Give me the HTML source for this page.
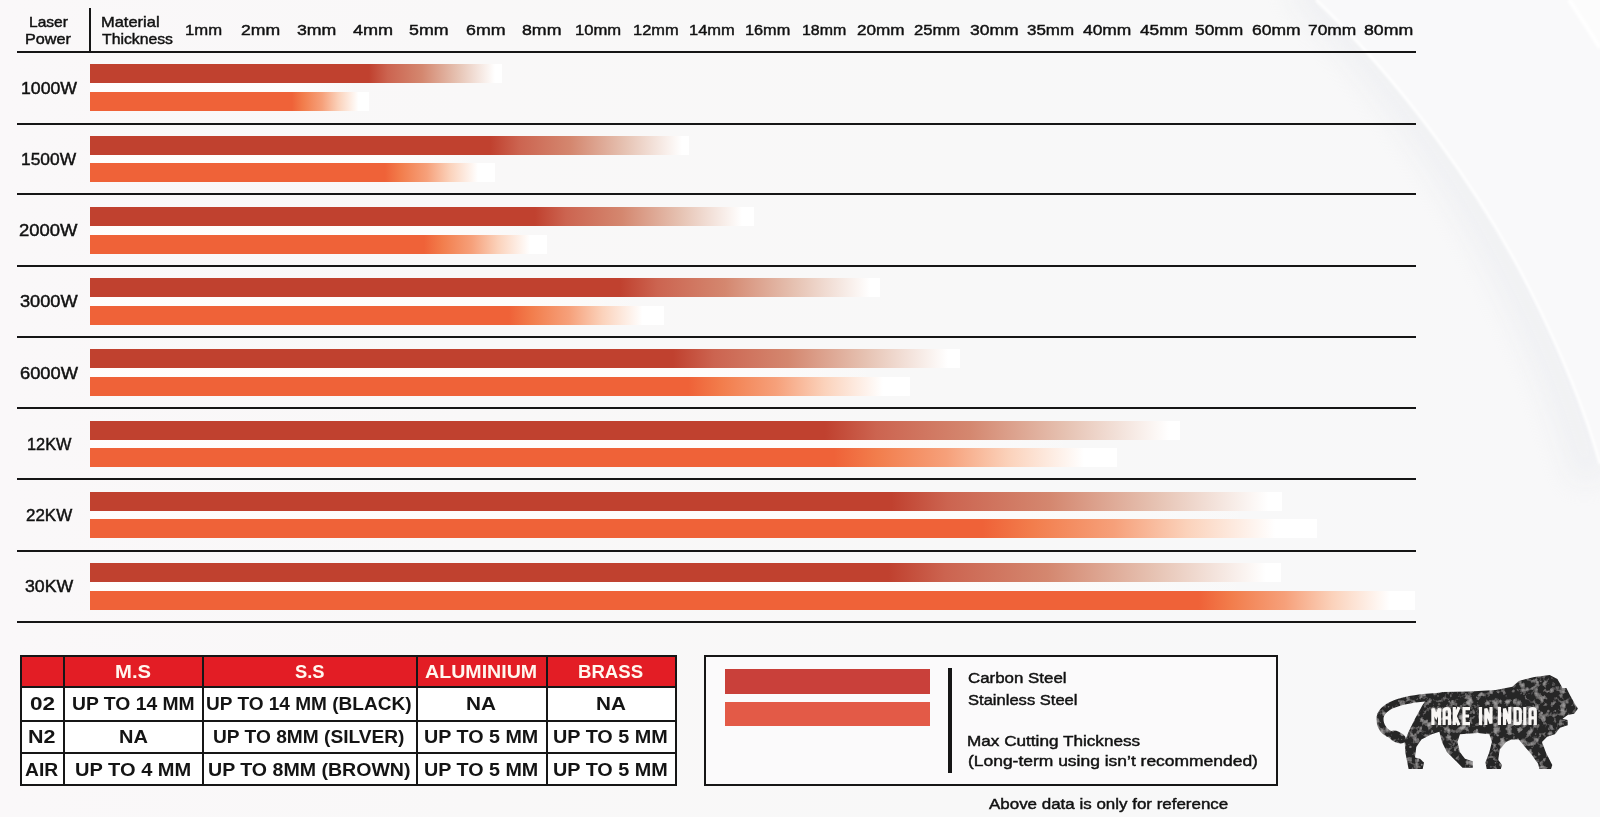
<!DOCTYPE html>
<html><head><meta charset="utf-8"><style>
html,body{margin:0;padding:0}
body{width:1600px;height:817px;overflow:hidden;position:relative;background:linear-gradient(90deg,#faf8f9 0%,#f9f8f8 30%,#f8f8f8 60%,#f8f8f9 100%);font-family:"Liberation Sans",sans-serif;color:#111}
div{white-space:nowrap}
</style></head><body>
<svg style="position:absolute;left:0;top:0" width="1600" height="817" viewBox="0 0 1600 817">
<defs>
<filter id="bl" x="-50%" y="-50%" width="200%" height="200%"><feGaussianBlur stdDeviation="14"/></filter>
<filter id="bl2" x="-50%" y="-50%" width="200%" height="200%"><feGaussianBlur stdDeviation="0.8"/></filter>
<clipPath id="leftc"><path d="M0,0 L1316,0 C1400,80 1480,190 1530,290 C1560,350 1585,410 1600,464 L1600,817 L0,817 Z"/></clipPath>
</defs>
<path d="M1316,0 C1400,80 1480,190 1530,290 C1560,350 1585,410 1600,464 L1600,0 Z" fill="#f9f9fa"/>
<g clip-path="url(#leftc)"><path d="M1300,-20 C1390,70 1470,185 1520,290 C1550,350 1575,415 1592,480" fill="none" stroke="#e6e8ed" stroke-width="40" filter="url(#bl)" opacity="0.45"/></g>
<path d="M1316,0 C1400,80 1480,190 1530,290 C1560,350 1585,410 1600,464" fill="none" stroke="#ffffff" stroke-width="2.5" filter="url(#bl2)"/>
<path d="M1569,0 C1580,16 1590,32 1600,48 L1600,0 Z" fill="#fcfcfc"/><path d="M1569,0 C1580,16 1590,32 1600,48" fill="none" stroke="#fff" stroke-width="4" filter="url(#bl2)"/>
</svg>
<div style="position:absolute;left:17px;top:51px;width:1399px;height:2px;background:#161616"></div><div style="position:absolute;left:17px;top:123px;width:1399px;height:2px;background:#161616"></div><div style="position:absolute;left:17px;top:193px;width:1399px;height:2px;background:#161616"></div><div style="position:absolute;left:17px;top:265px;width:1399px;height:2px;background:#161616"></div><div style="position:absolute;left:17px;top:336px;width:1399px;height:2px;background:#161616"></div><div style="position:absolute;left:17px;top:407px;width:1399px;height:2px;background:#161616"></div><div style="position:absolute;left:17px;top:478px;width:1399px;height:2px;background:#161616"></div><div style="position:absolute;left:17px;top:550px;width:1399px;height:2px;background:#161616"></div><div style="position:absolute;left:17px;top:621px;width:1399px;height:2px;background:#161616"></div><div style="position:absolute;left:89px;top:8px;width:2px;height:44px;background:#161616"></div><div style="position:absolute;left:90px;top:64px;width:412px;height:19px;background:linear-gradient(90deg,#c0412f 0%,#c0412f 67.72%,#cc6450 72.31%,#d4876f 80.56%,#e6c2b2 89.13%,#fff 98.30%,#fff 100%)"></div><div style="position:absolute;left:90px;top:92px;width:279px;height:19px;background:linear-gradient(90deg,#ef6238 0%,#ef6238 72.40%,#f27d4c 76.45%,#f6a07a 83.13%,#fbd2bb 89.09%,#fff 96.24%,#fff 100%)"></div><div style="position:absolute;left:90px;top:83px;width:268px;height:9px;background:linear-gradient(90deg,rgba(255,253,252,0.9) 0%,rgba(255,253,252,0.9) 75.4%,rgba(255,253,252,0) 100%)"></div><div style="position:absolute;left:90px;top:136px;width:599px;height:19px;background:linear-gradient(90deg,#c0412f 0%,#c0412f 66.86%,#cc6450 71.66%,#d4876f 80.29%,#e6c2b2 89.24%,#fff 98.83%,#fff 100%)"></div><div style="position:absolute;left:90px;top:163px;width:405px;height:19px;background:linear-gradient(90deg,#ef6238 0%,#ef6238 72.84%,#f27d4c 76.74%,#f6a07a 83.17%,#fbd2bb 88.91%,#fff 95.80%,#fff 100%)"></div><div style="position:absolute;left:90px;top:155px;width:388px;height:8px;background:linear-gradient(90deg,rgba(255,253,252,0.9) 0%,rgba(255,253,252,0.9) 76.0%,rgba(255,253,252,0) 100%)"></div><div style="position:absolute;left:90px;top:207px;width:664px;height:19px;background:linear-gradient(90deg,#c0412f 0%,#c0412f 67.02%,#cc6450 71.69%,#d4876f 80.11%,#e6c2b2 88.84%,#fff 98.19%,#fff 100%)"></div><div style="position:absolute;left:90px;top:235px;width:457px;height:19px;background:linear-gradient(90deg,#ef6238 0%,#ef6238 73.09%,#f27d4c 77.03%,#f6a07a 83.52%,#fbd2bb 89.32%,#fff 96.28%,#fff 100%)"></div><div style="position:absolute;left:90px;top:226px;width:440px;height:9px;background:linear-gradient(90deg,rgba(255,253,252,0.9) 0%,rgba(255,253,252,0.9) 75.9%,rgba(255,253,252,0) 100%)"></div><div style="position:absolute;left:90px;top:278px;width:790px;height:19px;background:linear-gradient(90deg,#c0412f 0%,#c0412f 67.09%,#cc6450 71.84%,#d4876f 80.38%,#e6c2b2 89.24%,#fff 98.73%,#fff 100%)"></div><div style="position:absolute;left:90px;top:306px;width:574px;height:19px;background:linear-gradient(90deg,#ef6238 0%,#ef6238 73.00%,#f27d4c 76.95%,#f6a07a 83.46%,#fbd2bb 89.28%,#fff 96.25%,#fff 100%)"></div><div style="position:absolute;left:90px;top:297px;width:552px;height:9px;background:linear-gradient(90deg,rgba(255,253,252,0.9) 0%,rgba(255,253,252,0.9) 75.9%,rgba(255,253,252,0) 100%)"></div><div style="position:absolute;left:90px;top:349px;width:870px;height:19px;background:linear-gradient(90deg,#c0412f 0%,#c0412f 67.01%,#cc6450 71.75%,#d4876f 80.29%,#e6c2b2 89.14%,#fff 98.62%,#fff 100%)"></div><div style="position:absolute;left:90px;top:377px;width:820px;height:19px;background:linear-gradient(90deg,#ef6238 0%,#ef6238 73.00%,#f27d4c 77.03%,#f6a07a 83.67%,#fbd2bb 89.60%,#fff 96.71%,#fff 100%)"></div><div style="position:absolute;left:90px;top:368px;width:793px;height:9px;background:linear-gradient(90deg,rgba(255,253,252,0.9) 0%,rgba(255,253,252,0.9) 73.5%,rgba(255,253,252,0) 100%)"></div><div style="position:absolute;left:90px;top:421px;width:1090px;height:19px;background:linear-gradient(90deg,#c0412f 0%,#c0412f 67.43%,#cc6450 72.17%,#d4876f 80.69%,#e6c2b2 89.52%,#fff 98.99%,#fff 100%)"></div><div style="position:absolute;left:90px;top:448px;width:1027px;height:19px;background:linear-gradient(90deg,#ef6238 0%,#ef6238 72.44%,#f27d4c 76.58%,#f6a07a 83.40%,#fbd2bb 89.48%,#fff 96.79%,#fff 100%)"></div><div style="position:absolute;left:90px;top:440px;width:994px;height:8px;background:linear-gradient(90deg,rgba(255,253,252,0.9) 0%,rgba(255,253,252,0.9) 73.9%,rgba(255,253,252,0) 100%)"></div><div style="position:absolute;left:90px;top:492px;width:1192px;height:19px;background:linear-gradient(90deg,#c0412f 0%,#c0412f 67.24%,#cc6450 71.98%,#d4876f 80.52%,#e6c2b2 89.38%,#fff 98.87%,#fff 100%)"></div><div style="position:absolute;left:90px;top:519px;width:1227px;height:19px;background:linear-gradient(90deg,#ef6238 0%,#ef6238 72.74%,#f27d4c 76.79%,#f6a07a 83.47%,#fbd2bb 89.43%,#fff 96.58%,#fff 100%)"></div><div style="position:absolute;left:90px;top:511px;width:1178px;height:8px;background:linear-gradient(90deg,rgba(255,253,252,0.9) 0%,rgba(255,253,252,0.9) 68.0%,rgba(255,253,252,0) 100%)"></div><div style="position:absolute;left:90px;top:563px;width:1191px;height:19px;background:linear-gradient(90deg,#c0412f 0%,#c0412f 67.09%,#cc6450 71.83%,#d4876f 80.38%,#e6c2b2 89.24%,#fff 98.74%,#fff 100%)"></div><div style="position:absolute;left:90px;top:591px;width:1325px;height:19px;background:linear-gradient(90deg,#ef6238 0%,#ef6238 83.70%,#f27d4c 86.15%,#f6a07a 90.18%,#fbd2bb 93.79%,#fff 98.11%,#fff 100%)"></div><div style="position:absolute;left:90px;top:582px;width:1176px;height:9px;background:linear-gradient(90deg,rgba(255,253,252,0.9) 0%,rgba(255,253,252,0.9) 67.9%,rgba(255,253,252,0) 100%)"></div><div style="position:absolute;left:21px;top:688px;width:655px;height:97px;background:#fff"></div><div style="position:absolute;left:21px;top:656px;width:655px;height:32px;background:#e31d25"></div><div style="position:absolute;left:20px;top:655px;width:657px;height:2px;background:#161616"></div><div style="position:absolute;left:20px;top:686px;width:657px;height:2px;background:#161616"></div><div style="position:absolute;left:20px;top:720px;width:657px;height:2px;background:#161616"></div><div style="position:absolute;left:20px;top:752px;width:657px;height:2px;background:#161616"></div><div style="position:absolute;left:20px;top:784px;width:657px;height:2px;background:#161616"></div><div style="position:absolute;left:20px;top:655px;width:2px;height:131px;background:#161616"></div><div style="position:absolute;left:63px;top:655px;width:2px;height:131px;background:#161616"></div><div style="position:absolute;left:202px;top:655px;width:2px;height:131px;background:#161616"></div><div style="position:absolute;left:416px;top:655px;width:2px;height:131px;background:#161616"></div><div style="position:absolute;left:546px;top:655px;width:2px;height:131px;background:#161616"></div><div style="position:absolute;left:675px;top:655px;width:2px;height:131px;background:#161616"></div><div style="position:absolute;left:704px;top:655px;width:570px;height:127px;border:2px solid #161616;background:#fbfafb"></div><div style="position:absolute;left:725px;top:669px;width:205px;height:25px;background:#c9403a"></div><div style="position:absolute;left:725px;top:702px;width:205px;height:24px;background:#e35a47"></div><div style="position:absolute;left:948px;top:668px;width:4px;height:105px;background:#161616"></div><div style="position:absolute;left:28.80px;top:14.10px;font-weight:400;font-size:15.0px;line-height:15.0px;transform:scaleX(1.0368);transform-origin:0 0;color:#111;-webkit-text-stroke:0.45px #111">Laser</div><div style="position:absolute;left:25.45px;top:30.50px;font-weight:400;font-size:15.0px;line-height:15.0px;transform:scaleX(1.0782);transform-origin:0 0;color:#111;-webkit-text-stroke:0.45px #111">Power</div><div style="position:absolute;left:101.23px;top:14.05px;font-weight:400;font-size:15.0px;line-height:15.0px;transform:scaleX(1.0972);transform-origin:0 0;color:#111;-webkit-text-stroke:0.45px #111">Material</div><div style="position:absolute;left:102.27px;top:30.90px;font-weight:400;font-size:15.0px;line-height:15.0px;transform:scaleX(1.0506);transform-origin:0 0;color:#111;-webkit-text-stroke:0.45px #111">Thickness</div><div style="position:absolute;left:184.78px;top:21.78px;font-weight:400;font-size:15.5px;line-height:15.5px;transform:scaleX(1.0750);transform-origin:0 0;color:#111;-webkit-text-stroke:0.45px #111">1mm</div><div style="position:absolute;left:241.00px;top:21.78px;font-weight:400;font-size:15.5px;line-height:15.5px;transform:scaleX(1.1368);transform-origin:0 0;color:#111;-webkit-text-stroke:0.45px #111">2mm</div><div style="position:absolute;left:296.51px;top:21.78px;font-weight:400;font-size:15.5px;line-height:15.5px;transform:scaleX(1.1424);transform-origin:0 0;color:#111;-webkit-text-stroke:0.45px #111">3mm</div><div style="position:absolute;left:352.71px;top:21.78px;font-weight:400;font-size:15.5px;line-height:15.5px;transform:scaleX(1.1660);transform-origin:0 0;color:#111;-webkit-text-stroke:0.45px #111">4mm</div><div style="position:absolute;left:409.37px;top:21.78px;font-weight:400;font-size:15.5px;line-height:15.5px;transform:scaleX(1.1466);transform-origin:0 0;color:#111;-webkit-text-stroke:0.45px #111">5mm</div><div style="position:absolute;left:466.35px;top:21.78px;font-weight:400;font-size:15.5px;line-height:15.5px;transform:scaleX(1.1470);transform-origin:0 0;color:#111;-webkit-text-stroke:0.45px #111">6mm</div><div style="position:absolute;left:522.43px;top:21.78px;font-weight:400;font-size:15.5px;line-height:15.5px;transform:scaleX(1.1446);transform-origin:0 0;color:#111;-webkit-text-stroke:0.45px #111">8mm</div><div style="position:absolute;left:575.48px;top:21.78px;font-weight:400;font-size:15.5px;line-height:15.5px;transform:scaleX(1.0709);transform-origin:0 0;color:#111;-webkit-text-stroke:0.45px #111">10mm</div><div style="position:absolute;left:632.50px;top:21.78px;font-weight:400;font-size:15.5px;line-height:15.5px;transform:scaleX(1.0588);transform-origin:0 0;color:#111;-webkit-text-stroke:0.45px #111">12mm</div><div style="position:absolute;left:688.79px;top:21.78px;font-weight:400;font-size:15.5px;line-height:15.5px;transform:scaleX(1.0636);transform-origin:0 0;color:#111;-webkit-text-stroke:0.45px #111">14mm</div><div style="position:absolute;left:745.41px;top:21.78px;font-weight:400;font-size:15.5px;line-height:15.5px;transform:scaleX(1.0491);transform-origin:0 0;color:#111;-webkit-text-stroke:0.45px #111">16mm</div><div style="position:absolute;left:801.83px;top:21.78px;font-weight:400;font-size:15.5px;line-height:15.5px;transform:scaleX(1.0273);transform-origin:0 0;color:#111;-webkit-text-stroke:0.45px #111">18mm</div><div style="position:absolute;left:857.01px;top:21.78px;font-weight:400;font-size:15.5px;line-height:15.5px;transform:scaleX(1.1054);transform-origin:0 0;color:#111;-webkit-text-stroke:0.45px #111">20mm</div><div style="position:absolute;left:914.43px;top:21.78px;font-weight:400;font-size:15.5px;line-height:15.5px;transform:scaleX(1.0720);transform-origin:0 0;color:#111;-webkit-text-stroke:0.45px #111">25mm</div><div style="position:absolute;left:969.51px;top:21.78px;font-weight:400;font-size:15.5px;line-height:15.5px;transform:scaleX(1.1289);transform-origin:0 0;color:#111;-webkit-text-stroke:0.45px #111">30mm</div><div style="position:absolute;left:1026.53px;top:21.78px;font-weight:400;font-size:15.5px;line-height:15.5px;transform:scaleX(1.0933);transform-origin:0 0;color:#111;-webkit-text-stroke:0.45px #111">35mm</div><div style="position:absolute;left:1083.32px;top:21.78px;font-weight:400;font-size:15.5px;line-height:15.5px;transform:scaleX(1.1217);transform-origin:0 0;color:#111;-webkit-text-stroke:0.45px #111">40mm</div><div style="position:absolute;left:1139.73px;top:21.78px;font-weight:400;font-size:15.5px;line-height:15.5px;transform:scaleX(1.1122);transform-origin:0 0;color:#111;-webkit-text-stroke:0.45px #111">45mm</div><div style="position:absolute;left:1195.38px;top:21.78px;font-weight:400;font-size:15.5px;line-height:15.5px;transform:scaleX(1.1203);transform-origin:0 0;color:#111;-webkit-text-stroke:0.45px #111">50mm</div><div style="position:absolute;left:1252.06px;top:21.78px;font-weight:400;font-size:15.5px;line-height:15.5px;transform:scaleX(1.1278);transform-origin:0 0;color:#111;-webkit-text-stroke:0.45px #111">60mm</div><div style="position:absolute;left:1308.38px;top:21.78px;font-weight:400;font-size:15.5px;line-height:15.5px;transform:scaleX(1.1202);transform-origin:0 0;color:#111;-webkit-text-stroke:0.45px #111">70mm</div><div style="position:absolute;left:1364.44px;top:21.78px;font-weight:400;font-size:15.5px;line-height:15.5px;transform:scaleX(1.1425);transform-origin:0 0;color:#111;-webkit-text-stroke:0.45px #111">80mm</div><div style="position:absolute;left:20.74px;top:79.92px;font-weight:400;font-size:16.4px;line-height:16.4px;transform:scaleX(1.0790);transform-origin:0 0;color:#111;-webkit-text-stroke:0.45px #111">1000W</div><div style="position:absolute;left:20.77px;top:151.32px;font-weight:400;font-size:16.4px;line-height:16.4px;transform:scaleX(1.0603);transform-origin:0 0;color:#111;-webkit-text-stroke:0.45px #111">1500W</div><div style="position:absolute;left:19.36px;top:222.17px;font-weight:400;font-size:16.4px;line-height:16.4px;transform:scaleX(1.1250);transform-origin:0 0;color:#111;-webkit-text-stroke:0.45px #111">2000W</div><div style="position:absolute;left:20.12px;top:293.42px;font-weight:400;font-size:16.4px;line-height:16.4px;transform:scaleX(1.1102);transform-origin:0 0;color:#111;-webkit-text-stroke:0.45px #111">3000W</div><div style="position:absolute;left:19.81px;top:365.17px;font-weight:400;font-size:16.4px;line-height:16.4px;transform:scaleX(1.1162);transform-origin:0 0;color:#111;-webkit-text-stroke:0.45px #111">6000W</div><div style="position:absolute;left:26.54px;top:435.62px;font-weight:400;font-size:16.4px;line-height:16.4px;transform:scaleX(0.9968);transform-origin:0 0;color:#111;-webkit-text-stroke:0.45px #111">12KW</div><div style="position:absolute;left:25.66px;top:507.17px;font-weight:400;font-size:16.4px;line-height:16.4px;transform:scaleX(1.0343);transform-origin:0 0;color:#111;-webkit-text-stroke:0.45px #111">22KW</div><div style="position:absolute;left:24.64px;top:578.42px;font-weight:400;font-size:16.4px;line-height:16.4px;transform:scaleX(1.0794);transform-origin:0 0;color:#111;-webkit-text-stroke:0.45px #111">30KW</div><div style="position:absolute;left:114.58px;top:662.84px;font-weight:700;font-size:18.5px;line-height:18.5px;transform:scaleX(1.0959);transform-origin:0 0;color:#fff7ef">M.S</div><div style="position:absolute;left:294.50px;top:662.84px;font-weight:700;font-size:18.5px;line-height:18.5px;transform:scaleX(0.9911);transform-origin:0 0;color:#fff7ef">S.S</div><div style="position:absolute;left:425.30px;top:662.84px;font-weight:700;font-size:18.5px;line-height:18.5px;transform:scaleX(1.0599);transform-origin:0 0;color:#fff7ef">ALUMINIUM</div><div style="position:absolute;left:577.69px;top:662.84px;font-weight:700;font-size:18.5px;line-height:18.5px;transform:scaleX(1.0054);transform-origin:0 0;color:#fff7ef">BRASS</div><div style="position:absolute;left:29.84px;top:694.84px;font-weight:700;font-size:18.5px;line-height:18.5px;transform:scaleX(1.2194);transform-origin:0 0;color:#141414">02</div><div style="position:absolute;left:71.74px;top:694.84px;font-weight:700;font-size:18.5px;line-height:18.5px;transform:scaleX(1.0435);transform-origin:0 0;color:#141414">UP TO 14 MM</div><div style="position:absolute;left:206.25px;top:694.84px;font-weight:700;font-size:18.5px;line-height:18.5px;transform:scaleX(1.0291);transform-origin:0 0;color:#141414">UP TO 14 MM (BLACK)</div><div style="position:absolute;left:465.94px;top:694.84px;font-weight:700;font-size:18.5px;line-height:18.5px;transform:scaleX(1.1223);transform-origin:0 0;color:#141414">NA</div><div style="position:absolute;left:595.55px;top:694.84px;font-weight:700;font-size:18.5px;line-height:18.5px;transform:scaleX(1.1182);transform-origin:0 0;color:#141414">NA</div><div style="position:absolute;left:28.49px;top:727.84px;font-weight:700;font-size:18.5px;line-height:18.5px;transform:scaleX(1.1620);transform-origin:0 0;color:#141414">N2</div><div style="position:absolute;left:118.80px;top:727.84px;font-weight:700;font-size:18.5px;line-height:18.5px;transform:scaleX(1.0816);transform-origin:0 0;color:#141414">NA</div><div style="position:absolute;left:213.05px;top:727.84px;font-weight:700;font-size:18.5px;line-height:18.5px;transform:scaleX(1.0350);transform-origin:0 0;color:#141414">UP TO 8MM (SILVER)</div><div style="position:absolute;left:423.51px;top:727.84px;font-weight:700;font-size:18.5px;line-height:18.5px;transform:scaleX(1.0652);transform-origin:0 0;color:#141414">UP TO 5 MM</div><div style="position:absolute;left:553.40px;top:727.84px;font-weight:700;font-size:18.5px;line-height:18.5px;transform:scaleX(1.0700);transform-origin:0 0;color:#141414">UP TO 5 MM</div><div style="position:absolute;left:25.41px;top:760.84px;font-weight:700;font-size:18.5px;line-height:18.5px;transform:scaleX(1.0406);transform-origin:0 0;color:#141414">AIR</div><div style="position:absolute;left:75.19px;top:760.84px;font-weight:700;font-size:18.5px;line-height:18.5px;transform:scaleX(1.0843);transform-origin:0 0;color:#141414">UP TO 4 MM</div><div style="position:absolute;left:207.52px;top:760.84px;font-weight:700;font-size:18.5px;line-height:18.5px;transform:scaleX(1.0575);transform-origin:0 0;color:#141414">UP TO 8MM (BROWN)</div><div style="position:absolute;left:423.51px;top:760.84px;font-weight:700;font-size:18.5px;line-height:18.5px;transform:scaleX(1.0652);transform-origin:0 0;color:#141414">UP TO 5 MM</div><div style="position:absolute;left:553.40px;top:760.84px;font-weight:700;font-size:18.5px;line-height:18.5px;transform:scaleX(1.0700);transform-origin:0 0;color:#141414">UP TO 5 MM</div><div style="position:absolute;left:967.95px;top:670.05px;font-weight:400;font-size:15.3px;line-height:15.3px;transform:scaleX(1.1034);transform-origin:0 0;color:#111;-webkit-text-stroke:0.45px #111">Carbon Steel</div><div style="position:absolute;left:967.95px;top:691.80px;font-weight:400;font-size:15.3px;line-height:15.3px;transform:scaleX(1.0821);transform-origin:0 0;color:#111;-webkit-text-stroke:0.45px #111">Stainless Steel</div><div style="position:absolute;left:967.10px;top:732.65px;font-weight:400;font-size:15.3px;line-height:15.3px;transform:scaleX(1.1211);transform-origin:0 0;color:#111;-webkit-text-stroke:0.45px #111">Max Cutting Thickness</div><div style="position:absolute;left:967.57px;top:752.85px;font-weight:400;font-size:15.3px;line-height:15.3px;transform:scaleX(1.1404);transform-origin:0 0;color:#111;-webkit-text-stroke:0.45px #111">(Long-term using isn’t recommended)</div><div style="position:absolute;left:989.13px;top:795.65px;font-weight:400;font-size:15.3px;line-height:15.3px;transform:scaleX(1.1077);transform-origin:0 0;color:#111;-webkit-text-stroke:0.45px #111">Above data is only for reference</div>
<svg style="position:absolute;left:0;top:0" width="1600" height="817" viewBox="0 0 1600 817">
<defs><clipPath id="lc"><path d="M1442.0,691.9 L1470.0,691.5 L1495.7,689.9 L1512.4,686.7 L1518.8,680.9 L1534.3,677.0 L1549.7,675.1 L1557.4,679.0 L1562.5,688.0 L1566.4,688.0 L1570.3,695.7 L1575.4,704.7 L1578.0,708.6 L1574.1,713.7 L1567.7,715.0 L1562.5,718.8 L1567.7,720.1 L1567.7,725.3 L1560.0,727.8 L1554.8,734.3 L1547.1,736.8 L1542.0,742.0 L1545.8,752.3 L1549.7,760.0 L1552.3,765.1 L1551.0,769.0 L1539.4,769.0 L1538.1,763.8 L1531.7,754.8 L1524.0,745.8 L1518.8,739.4 L1511.1,739.4 L1506.0,742.0 L1499.6,749.7 L1498.3,760.0 L1502.1,765.1 L1500.8,769.0 L1486.7,769.0 L1485.4,762.5 L1489.3,752.3 L1491.9,742.0 L1489.3,734.3 L1477.7,733.0 L1460.0,734.3 L1457.4,742.0 L1460.0,752.3 L1465.0,758.7 L1472.8,761.3 L1472.8,767.7 L1462.5,767.7 L1457.4,762.5 L1447.0,752.3 L1442.0,742.0 L1439.4,731.7 L1431.7,734.3 L1421.4,739.4 L1416.3,747.0 L1415.0,757.4 L1420.0,758.7 L1424.0,762.5 L1422.7,769.0 L1408.6,769.0 L1407.3,762.5 L1405.3,752.3 L1404.7,742.0 L1408.6,731.7 L1415.0,718.8 L1422.7,704.7 L1430.0,695.0 Z"/><path d="M1442,692.5 C1405,694 1376,701 1376.5,720 C1377,731 1384,736.5 1392,738.5 L1396,733 C1389,731 1383.5,726 1383.5,719 C1384,708 1405,701.5 1442,700.5 Z"/><ellipse cx="1397" cy="737" rx="9.5" ry="5.6" transform="rotate(24 1397 737)"/></clipPath></defs>
<filter id="mot" x="0" y="0" width="100%" height="100%"><feTurbulence type="fractalNoise" baseFrequency="0.15" numOctaves="3" seed="9" result="n"/><feColorMatrix in="n" type="matrix" values="0 0 0 0 0.37  0 0 0 0 0.36  0 0 0 0 0.36  3.0 0 0 0 -1.5" result="m"/><feFlood flood-color="#262526" result="f"/><feComposite in="m" in2="f" operator="over"/></filter>
<g clip-path="url(#lc)"><rect x="1370" y="670" width="215" height="105" fill="#3a3839" filter="url(#mot)"/><circle cx="1467.2" cy="727.7" r="1.2" fill="#6a6a70" opacity="0.75"/><circle cx="1467.1" cy="756.1" r="0.6" fill="#6a6a70" opacity="0.75"/><circle cx="1503.8" cy="750.1" r="0.5" fill="#9a9799" opacity="0.75"/><circle cx="1403.2" cy="725.7" r="1.2" fill="#8d8a8b" opacity="0.75"/><circle cx="1496.7" cy="712.0" r="0.8" fill="#75726f" opacity="0.75"/><circle cx="1502.4" cy="753.8" r="0.5" fill="#8d8a8b" opacity="0.75"/><circle cx="1413.2" cy="697.2" r="0.4" fill="#6a6a70" opacity="0.75"/><circle cx="1441.2" cy="730.7" r="0.6" fill="#75726f" opacity="0.75"/><circle cx="1505.9" cy="722.0" r="1.0" fill="#6a6a70" opacity="0.75"/><circle cx="1508.9" cy="713.1" r="0.9" fill="#8d8a8b" opacity="0.75"/><circle cx="1519.8" cy="704.3" r="0.6" fill="#9a9799" opacity="0.75"/><circle cx="1380.1" cy="728.1" r="0.5" fill="#8d8a8b" opacity="0.75"/><circle cx="1548.4" cy="711.1" r="1.3" fill="#8d8a8b" opacity="0.75"/><circle cx="1418.0" cy="763.0" r="0.4" fill="#6a6a70" opacity="0.75"/><circle cx="1576.0" cy="712.2" r="0.5" fill="#75726f" opacity="0.75"/><circle cx="1534.4" cy="699.9" r="0.5" fill="#9a9799" opacity="0.75"/><circle cx="1377.1" cy="713.4" r="1.2" fill="#75726f" opacity="0.75"/><circle cx="1424.8" cy="683.7" r="0.5" fill="#6a6a70" opacity="0.75"/><circle cx="1410.6" cy="727.7" r="0.8" fill="#75726f" opacity="0.75"/><circle cx="1577.0" cy="747.9" r="0.8" fill="#6a6a70" opacity="0.75"/><circle cx="1398.0" cy="714.4" r="0.6" fill="#9a9799" opacity="0.75"/><circle cx="1552.1" cy="767.6" r="0.9" fill="#8d8a8b" opacity="0.75"/><circle cx="1417.4" cy="711.9" r="1.2" fill="#8d8a8b" opacity="0.75"/><circle cx="1382.7" cy="688.1" r="0.8" fill="#8d8a8b" opacity="0.75"/><circle cx="1533.2" cy="705.6" r="0.7" fill="#8d8a8b" opacity="0.75"/><circle cx="1389.3" cy="694.0" r="1.0" fill="#8d8a8b" opacity="0.75"/><circle cx="1497.9" cy="709.7" r="0.8" fill="#6a6a70" opacity="0.75"/><circle cx="1545.5" cy="687.0" r="0.7" fill="#75726f" opacity="0.75"/><circle cx="1438.0" cy="695.9" r="0.9" fill="#75726f" opacity="0.75"/><circle cx="1406.6" cy="734.4" r="0.9" fill="#6a6a70" opacity="0.75"/><circle cx="1555.7" cy="731.9" r="0.8" fill="#8d8a8b" opacity="0.75"/><circle cx="1396.5" cy="723.2" r="0.6" fill="#6a6a70" opacity="0.75"/><circle cx="1426.9" cy="753.1" r="0.9" fill="#9a9799" opacity="0.75"/><circle cx="1481.1" cy="763.2" r="1.3" fill="#75726f" opacity="0.75"/><circle cx="1421.0" cy="727.7" r="1.2" fill="#8d8a8b" opacity="0.75"/><circle cx="1431.7" cy="762.1" r="0.6" fill="#8d8a8b" opacity="0.75"/><circle cx="1388.2" cy="713.5" r="0.6" fill="#8d8a8b" opacity="0.75"/><circle cx="1410.3" cy="709.4" r="0.9" fill="#75726f" opacity="0.75"/><circle cx="1393.0" cy="687.3" r="0.8" fill="#9a9799" opacity="0.75"/><circle cx="1509.3" cy="740.4" r="0.9" fill="#75726f" opacity="0.75"/><circle cx="1495.5" cy="762.7" r="0.8" fill="#9a9799" opacity="0.75"/><circle cx="1518.4" cy="766.4" r="0.4" fill="#8d8a8b" opacity="0.75"/><circle cx="1473.3" cy="744.1" r="0.7" fill="#8d8a8b" opacity="0.75"/><circle cx="1389.5" cy="726.4" r="1.1" fill="#75726f" opacity="0.75"/><circle cx="1537.4" cy="761.8" r="0.7" fill="#6a6a70" opacity="0.75"/><circle cx="1559.6" cy="757.6" r="0.8" fill="#8d8a8b" opacity="0.75"/><circle cx="1551.9" cy="729.0" r="1.0" fill="#6a6a70" opacity="0.75"/><circle cx="1452.1" cy="675.2" r="0.5" fill="#8d8a8b" opacity="0.75"/><circle cx="1505.7" cy="769.4" r="1.2" fill="#9a9799" opacity="0.75"/><circle cx="1454.0" cy="744.6" r="0.9" fill="#6a6a70" opacity="0.75"/><circle cx="1469.3" cy="726.0" r="0.9" fill="#8d8a8b" opacity="0.75"/><circle cx="1437.9" cy="682.4" r="0.4" fill="#8d8a8b" opacity="0.75"/><circle cx="1476.4" cy="733.0" r="1.2" fill="#9a9799" opacity="0.75"/><circle cx="1558.7" cy="709.3" r="0.5" fill="#75726f" opacity="0.75"/><circle cx="1480.8" cy="746.4" r="0.7" fill="#6a6a70" opacity="0.75"/><circle cx="1476.7" cy="697.2" r="0.8" fill="#9a9799" opacity="0.75"/><circle cx="1414.9" cy="715.4" r="1.1" fill="#75726f" opacity="0.75"/><circle cx="1555.3" cy="710.9" r="0.9" fill="#9a9799" opacity="0.75"/><circle cx="1417.2" cy="686.9" r="0.7" fill="#8d8a8b" opacity="0.75"/><circle cx="1520.5" cy="765.2" r="0.6" fill="#75726f" opacity="0.75"/><circle cx="1397.2" cy="719.2" r="1.2" fill="#6a6a70" opacity="0.75"/><circle cx="1452.8" cy="723.9" r="1.0" fill="#6a6a70" opacity="0.75"/><circle cx="1440.0" cy="753.6" r="0.7" fill="#8d8a8b" opacity="0.75"/><circle cx="1513.7" cy="701.0" r="0.7" fill="#8d8a8b" opacity="0.75"/><circle cx="1506.0" cy="712.9" r="0.6" fill="#9a9799" opacity="0.75"/><circle cx="1422.9" cy="687.5" r="0.4" fill="#8d8a8b" opacity="0.75"/><circle cx="1466.0" cy="734.5" r="1.0" fill="#9a9799" opacity="0.75"/><circle cx="1571.4" cy="739.7" r="0.6" fill="#6a6a70" opacity="0.75"/><circle cx="1426.7" cy="742.6" r="1.1" fill="#8d8a8b" opacity="0.75"/><circle cx="1410.9" cy="700.1" r="0.7" fill="#75726f" opacity="0.75"/><circle cx="1455.1" cy="750.0" r="1.2" fill="#8d8a8b" opacity="0.75"/><circle cx="1458.6" cy="759.7" r="0.7" fill="#6a6a70" opacity="0.75"/><circle cx="1467.4" cy="734.1" r="1.2" fill="#6a6a70" opacity="0.75"/><circle cx="1487.3" cy="736.7" r="0.9" fill="#9a9799" opacity="0.75"/><circle cx="1469.5" cy="736.5" r="0.6" fill="#8d8a8b" opacity="0.75"/><circle cx="1417.9" cy="760.4" r="1.3" fill="#9a9799" opacity="0.75"/><circle cx="1484.6" cy="749.9" r="0.7" fill="#8d8a8b" opacity="0.75"/><circle cx="1445.8" cy="681.9" r="0.8" fill="#6a6a70" opacity="0.75"/><circle cx="1532.3" cy="720.8" r="0.4" fill="#8d8a8b" opacity="0.75"/><circle cx="1462.4" cy="677.4" r="0.9" fill="#75726f" opacity="0.75"/><circle cx="1470.9" cy="770.0" r="1.2" fill="#6a6a70" opacity="0.75"/><circle cx="1568.8" cy="721.3" r="1.3" fill="#8d8a8b" opacity="0.75"/><circle cx="1530.1" cy="716.2" r="0.9" fill="#75726f" opacity="0.75"/><circle cx="1481.7" cy="755.0" r="0.9" fill="#9a9799" opacity="0.75"/><circle cx="1512.3" cy="765.7" r="1.2" fill="#75726f" opacity="0.75"/><circle cx="1436.7" cy="687.6" r="0.9" fill="#9a9799" opacity="0.75"/><circle cx="1492.0" cy="693.3" r="0.9" fill="#8d8a8b" opacity="0.75"/><circle cx="1498.7" cy="676.7" r="1.3" fill="#6a6a70" opacity="0.75"/><circle cx="1486.1" cy="769.0" r="0.5" fill="#8d8a8b" opacity="0.75"/><circle cx="1516.3" cy="680.3" r="0.9" fill="#6a6a70" opacity="0.75"/><circle cx="1563.7" cy="750.8" r="0.8" fill="#75726f" opacity="0.75"/><circle cx="1471.5" cy="686.2" r="0.8" fill="#6a6a70" opacity="0.75"/><circle cx="1482.1" cy="684.4" r="0.8" fill="#8d8a8b" opacity="0.75"/><circle cx="1564.6" cy="686.4" r="1.1" fill="#8d8a8b" opacity="0.75"/><circle cx="1381.3" cy="688.9" r="0.4" fill="#9a9799" opacity="0.75"/><circle cx="1440.3" cy="708.1" r="1.0" fill="#8d8a8b" opacity="0.75"/><circle cx="1476.9" cy="729.9" r="1.2" fill="#9a9799" opacity="0.75"/><circle cx="1521.8" cy="741.3" r="1.2" fill="#8d8a8b" opacity="0.75"/><circle cx="1451.4" cy="713.7" r="0.9" fill="#75726f" opacity="0.75"/><circle cx="1484.9" cy="756.9" r="0.9" fill="#75726f" opacity="0.75"/><circle cx="1483.1" cy="755.7" r="1.0" fill="#75726f" opacity="0.75"/><circle cx="1421.9" cy="745.1" r="1.1" fill="#75726f" opacity="0.75"/><circle cx="1439.1" cy="704.2" r="1.2" fill="#75726f" opacity="0.75"/><circle cx="1534.3" cy="692.7" r="0.5" fill="#75726f" opacity="0.75"/><circle cx="1401.3" cy="682.5" r="0.7" fill="#6a6a70" opacity="0.75"/><circle cx="1545.4" cy="714.5" r="1.1" fill="#75726f" opacity="0.75"/><circle cx="1415.3" cy="734.3" r="1.1" fill="#8d8a8b" opacity="0.75"/><circle cx="1415.4" cy="739.5" r="1.2" fill="#9a9799" opacity="0.75"/><circle cx="1397.8" cy="722.5" r="1.1" fill="#75726f" opacity="0.75"/><circle cx="1539.4" cy="720.3" r="0.4" fill="#6a6a70" opacity="0.75"/><circle cx="1404.2" cy="691.7" r="0.6" fill="#75726f" opacity="0.75"/><circle cx="1578.0" cy="763.0" r="0.5" fill="#8d8a8b" opacity="0.75"/><circle cx="1401.7" cy="739.4" r="0.5" fill="#8d8a8b" opacity="0.75"/><circle cx="1441.3" cy="718.8" r="0.9" fill="#6a6a70" opacity="0.75"/><circle cx="1417.3" cy="709.8" r="1.0" fill="#8d8a8b" opacity="0.75"/><circle cx="1547.9" cy="691.4" r="0.8" fill="#9a9799" opacity="0.75"/><circle cx="1457.5" cy="692.7" r="0.5" fill="#8d8a8b" opacity="0.75"/><circle cx="1440.7" cy="682.1" r="1.2" fill="#6a6a70" opacity="0.75"/><circle cx="1491.4" cy="692.3" r="0.9" fill="#9a9799" opacity="0.75"/><circle cx="1539.8" cy="698.8" r="1.2" fill="#75726f" opacity="0.75"/><circle cx="1541.8" cy="712.9" r="1.2" fill="#9a9799" opacity="0.75"/><circle cx="1532.1" cy="747.5" r="0.8" fill="#75726f" opacity="0.75"/><circle cx="1388.5" cy="706.8" r="0.8" fill="#8d8a8b" opacity="0.75"/><circle cx="1556.9" cy="769.1" r="1.2" fill="#8d8a8b" opacity="0.75"/><circle cx="1421.8" cy="764.7" r="1.0" fill="#9a9799" opacity="0.75"/><circle cx="1418.5" cy="713.0" r="0.6" fill="#8d8a8b" opacity="0.75"/><circle cx="1454.3" cy="770.0" r="1.0" fill="#8d8a8b" opacity="0.75"/><circle cx="1530.9" cy="768.1" r="0.4" fill="#8d8a8b" opacity="0.75"/><circle cx="1526.2" cy="698.6" r="0.8" fill="#8d8a8b" opacity="0.75"/><circle cx="1530.8" cy="736.2" r="0.4" fill="#9a9799" opacity="0.75"/><circle cx="1425.7" cy="760.9" r="0.9" fill="#6a6a70" opacity="0.75"/><circle cx="1573.2" cy="728.5" r="1.3" fill="#6a6a70" opacity="0.75"/><circle cx="1540.8" cy="681.3" r="0.9" fill="#8d8a8b" opacity="0.75"/><circle cx="1453.6" cy="764.1" r="0.7" fill="#75726f" opacity="0.75"/><circle cx="1550.3" cy="726.0" r="0.9" fill="#6a6a70" opacity="0.75"/><circle cx="1568.7" cy="714.4" r="0.9" fill="#9a9799" opacity="0.75"/><circle cx="1449.3" cy="701.4" r="1.0" fill="#9a9799" opacity="0.75"/><circle cx="1510.7" cy="745.8" r="0.4" fill="#75726f" opacity="0.75"/><circle cx="1494.7" cy="734.8" r="0.8" fill="#6a6a70" opacity="0.75"/><circle cx="1384.9" cy="704.3" r="0.8" fill="#9a9799" opacity="0.75"/><circle cx="1389.1" cy="760.9" r="0.8" fill="#6a6a70" opacity="0.75"/><circle cx="1425.7" cy="746.5" r="0.4" fill="#8d8a8b" opacity="0.75"/><circle cx="1567.1" cy="743.4" r="0.8" fill="#75726f" opacity="0.75"/><circle cx="1498.3" cy="685.0" r="1.0" fill="#6a6a70" opacity="0.75"/><circle cx="1398.3" cy="756.7" r="0.7" fill="#75726f" opacity="0.75"/><circle cx="1399.6" cy="716.5" r="1.0" fill="#6a6a70" opacity="0.75"/><circle cx="1497.8" cy="735.4" r="1.0" fill="#9a9799" opacity="0.75"/><circle cx="1534.3" cy="725.0" r="1.3" fill="#9a9799" opacity="0.75"/><circle cx="1525.3" cy="696.9" r="0.5" fill="#9a9799" opacity="0.75"/><circle cx="1535.6" cy="734.0" r="0.7" fill="#9a9799" opacity="0.75"/><circle cx="1499.6" cy="743.6" r="1.0" fill="#75726f" opacity="0.75"/><circle cx="1504.4" cy="746.3" r="0.6" fill="#75726f" opacity="0.75"/><circle cx="1477.4" cy="736.7" r="0.6" fill="#8d8a8b" opacity="0.75"/><circle cx="1503.5" cy="674.9" r="0.6" fill="#8d8a8b" opacity="0.75"/><circle cx="1502.4" cy="683.8" r="0.9" fill="#8d8a8b" opacity="0.75"/><circle cx="1529.7" cy="761.6" r="0.5" fill="#75726f" opacity="0.75"/><circle cx="1504.0" cy="709.8" r="0.8" fill="#75726f" opacity="0.75"/><circle cx="1443.7" cy="721.5" r="0.5" fill="#8d8a8b" opacity="0.75"/><circle cx="1539.3" cy="716.9" r="1.1" fill="#75726f" opacity="0.75"/><circle cx="1465.5" cy="745.7" r="0.8" fill="#75726f" opacity="0.75"/><circle cx="1450.0" cy="736.8" r="1.3" fill="#9a9799" opacity="0.75"/><circle cx="1433.9" cy="746.9" r="1.1" fill="#75726f" opacity="0.75"/><circle cx="1462.1" cy="709.4" r="0.5" fill="#9a9799" opacity="0.75"/><circle cx="1390.2" cy="682.0" r="0.9" fill="#6a6a70" opacity="0.75"/><circle cx="1542.0" cy="718.5" r="1.1" fill="#8d8a8b" opacity="0.75"/><circle cx="1389.7" cy="694.5" r="1.0" fill="#8d8a8b" opacity="0.75"/><circle cx="1517.2" cy="721.5" r="1.1" fill="#9a9799" opacity="0.75"/><circle cx="1432.3" cy="687.7" r="0.7" fill="#9a9799" opacity="0.75"/><circle cx="1449.5" cy="685.3" r="1.0" fill="#9a9799" opacity="0.75"/><circle cx="1464.2" cy="751.1" r="0.7" fill="#9a9799" opacity="0.75"/><circle cx="1419.6" cy="766.9" r="1.1" fill="#75726f" opacity="0.75"/><circle cx="1391.4" cy="753.5" r="0.4" fill="#6a6a70" opacity="0.75"/><circle cx="1494.5" cy="750.4" r="1.1" fill="#9a9799" opacity="0.75"/><circle cx="1538.2" cy="725.9" r="1.2" fill="#75726f" opacity="0.75"/><circle cx="1410.4" cy="746.9" r="1.2" fill="#9a9799" opacity="0.75"/><circle cx="1541.2" cy="695.2" r="0.5" fill="#75726f" opacity="0.75"/><circle cx="1490.9" cy="766.8" r="1.0" fill="#6a6a70" opacity="0.75"/><circle cx="1387.2" cy="726.5" r="1.1" fill="#8d8a8b" opacity="0.75"/><circle cx="1442.9" cy="700.3" r="0.5" fill="#9a9799" opacity="0.75"/><circle cx="1391.4" cy="734.9" r="0.5" fill="#6a6a70" opacity="0.75"/><circle cx="1424.6" cy="695.2" r="1.1" fill="#9a9799" opacity="0.75"/><circle cx="1531.5" cy="711.9" r="0.7" fill="#9a9799" opacity="0.75"/><circle cx="1512.5" cy="721.4" r="0.9" fill="#8d8a8b" opacity="0.75"/><circle cx="1519.9" cy="761.8" r="0.8" fill="#9a9799" opacity="0.75"/><circle cx="1549.8" cy="751.4" r="1.2" fill="#6a6a70" opacity="0.75"/><circle cx="1571.3" cy="735.5" r="0.9" fill="#8d8a8b" opacity="0.75"/><circle cx="1539.3" cy="714.5" r="0.8" fill="#75726f" opacity="0.75"/><circle cx="1424.6" cy="689.6" r="1.0" fill="#75726f" opacity="0.75"/><circle cx="1440.1" cy="711.4" r="0.9" fill="#9a9799" opacity="0.75"/><circle cx="1573.8" cy="679.7" r="0.7" fill="#8d8a8b" opacity="0.75"/><circle cx="1436.5" cy="688.9" r="1.2" fill="#8d8a8b" opacity="0.75"/><circle cx="1529.1" cy="675.6" r="0.8" fill="#8d8a8b" opacity="0.75"/><circle cx="1438.4" cy="693.0" r="0.7" fill="#75726f" opacity="0.75"/><circle cx="1497.6" cy="719.3" r="0.9" fill="#6a6a70" opacity="0.75"/><circle cx="1412.1" cy="701.0" r="0.6" fill="#9a9799" opacity="0.75"/><circle cx="1503.1" cy="764.4" r="0.9" fill="#9a9799" opacity="0.75"/><circle cx="1473.9" cy="712.7" r="1.3" fill="#8d8a8b" opacity="0.75"/><circle cx="1473.4" cy="695.2" r="0.4" fill="#75726f" opacity="0.75"/><circle cx="1539.1" cy="711.0" r="0.9" fill="#9a9799" opacity="0.75"/><circle cx="1536.3" cy="679.6" r="1.2" fill="#8d8a8b" opacity="0.75"/></g>
<path d="M1432.9,725.1 V708.6 L1436.25,716.5 L1439.6,708.6 V725.1 M1444.1,725.1 V711 Q1444.1,708.6 1446.75,708.6 Q1449.4,708.6 1449.4,711 V725.1 M1444.1,717.8 H1449.4 M1454.3,707.1 V725.1 M1459,707.1 L1455.2,716 L1459,725.1 M1470,708.6 H1464 V723.6 H1470 M1464,716 H1469 M1480.5,707.1 V725.1 M1485.8,725.1 V708.6 L1491,723.6 V707.1 M1499.4,707.1 V725.1 M1504.5,725.1 V708.6 L1509.8,723.6 V707.1 M1515,708.6 H1518 Q1520.3,708.6 1520.3,711 V721.2 Q1520.3,723.6 1518,723.6 H1515 M1515,707.1 V725.1 M1524.8,707.1 V725.1 M1530,725.1 V711 Q1530,708.6 1532.65,708.6 Q1535.3,708.6 1535.3,711 V725.1 M1530,717.8 H1535.3" fill="none" stroke="#f8f6f4" stroke-width="3.2"/>
</svg>
</body></html>
